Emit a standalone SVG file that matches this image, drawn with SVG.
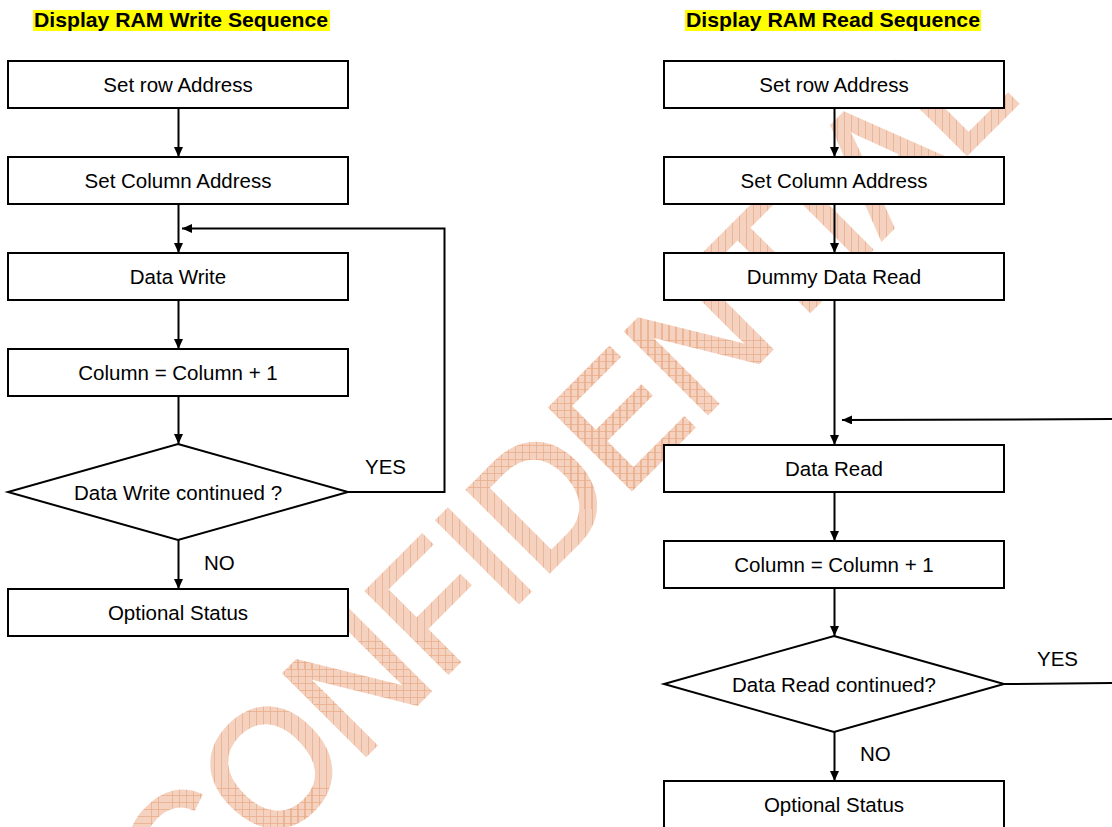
<svg xmlns="http://www.w3.org/2000/svg" width="1112" height="827" viewBox="0 0 1112 827">
  <style>
    .box { fill: #ffffff; stroke: #000000; stroke-width: 2; }
    .lbl { font-family: "Liberation Sans", Arial, sans-serif; font-size: 20.5px; fill: #000000; text-anchor: middle; }
    .tag { font-family: "Liberation Sans", Arial, sans-serif; font-size: 20.5px; fill: #000000; }
    .title { font-family: "Liberation Sans", Arial, sans-serif; font-size: 21px; font-weight: bold; fill: #000000; }
    .hl { fill: #ffff00; }
    .conn { fill: none; stroke: #000000; stroke-width: 2; }
    .wm { font-family: "Liberation Sans", Arial, sans-serif; font-size: 168px; fill: url(#hatch); stroke: url(#hatch); stroke-width: 3.5; stroke-linejoin: miter; }
  </style>
  <defs>
    <marker id="arrow" markerUnits="userSpaceOnUse" markerWidth="10" markerHeight="9" refX="10" refY="4.5" orient="auto">
      <path d="M0,0 L10,4.5 L0,9 z" fill="#000000"/>
    </marker>
    <pattern id="hatch" patternUnits="userSpaceOnUse" width="7" height="7" patternTransform="rotate(45)">
      <rect width="7" height="7" fill="#f5d2bf"/>
      <path d="M0,0.4 H7 M0.4,0 V7" stroke="#e8a985" stroke-width="0.8"/>
    </pattern>
  </defs>

  <rect width="1112" height="827" fill="#ffffff"/>

  <g id="watermark">
    <text class="wm" x="0" y="0" transform="translate(186,935) rotate(-45)" textLength="1181" lengthAdjust="spacingAndGlyphs">CONFIDENTIAL</text>
  </g>

  <g id="title-write">
    <rect class="hl" x="33" y="10" width="297" height="21"/>
    <text class="title" x="34" y="27" textLength="294" lengthAdjust="spacingAndGlyphs">Display RAM Write Sequence</text>
  </g>
  <g id="title-read">
    <rect class="hl" x="685" y="10" width="296" height="21"/>
    <text class="title" x="686" y="27" textLength="294" lengthAdjust="spacingAndGlyphs">Display RAM Read Sequence</text>
  </g>

  <!-- Write sequence nodes -->
  <g id="w-row">
    <rect class="box" x="8" y="61" width="340" height="47"/>
    <text class="lbl" x="178" y="92">Set row Address</text>
  </g>
  <g id="w-col">
    <rect class="box" x="8" y="157" width="340" height="47"/>
    <text class="lbl" x="178" y="188">Set Column Address</text>
  </g>
  <g id="w-data">
    <rect class="box" x="8" y="253" width="340" height="47"/>
    <text class="lbl" x="178" y="284">Data Write</text>
  </g>
  <g id="w-inc">
    <rect class="box" x="8" y="349" width="340" height="47"/>
    <text class="lbl" x="178" y="380">Column = Column + 1</text>
  </g>
  <g id="w-dec">
    <polygon class="box" points="178,444 348,492 178,540 8,492"/>
    <text class="lbl" x="178" y="500">Data Write continued ?</text>
  </g>
  <g id="w-status">
    <rect class="box" x="8" y="589" width="340" height="47"/>
    <text class="lbl" x="178" y="620">Optional Status</text>
  </g>

  <!-- Read sequence nodes -->
  <g id="r-row">
    <rect class="box" x="664" y="61" width="340" height="47"/>
    <text class="lbl" x="834" y="92">Set row Address</text>
  </g>
  <g id="r-col">
    <rect class="box" x="664" y="157" width="340" height="47"/>
    <text class="lbl" x="834" y="188">Set Column Address</text>
  </g>
  <g id="r-dummy">
    <rect class="box" x="664" y="253" width="340" height="47"/>
    <text class="lbl" x="834" y="284">Dummy Data Read</text>
  </g>
  <g id="r-data">
    <rect class="box" x="664" y="445" width="340" height="47"/>
    <text class="lbl" x="834" y="476">Data Read</text>
  </g>
  <g id="r-inc">
    <rect class="box" x="664" y="541" width="340" height="47"/>
    <text class="lbl" x="834" y="572">Column = Column + 1</text>
  </g>
  <g id="r-dec">
    <polygon class="box" points="834,636 1004,684 834,732 664,684"/>
    <text class="lbl" x="834" y="692">Data Read continued?</text>
  </g>
  <g id="r-status">
    <rect class="box" x="664" y="781" width="340" height="47"/>
    <text class="lbl" x="834" y="812">Optional Status</text>
  </g>

  <g id="connectors">
    <path class="conn" d="M178.5,108 V157" marker-end="url(#arrow)"/>
    <path class="conn" d="M178.5,204 V253" marker-end="url(#arrow)"/>
    <path class="conn" d="M178.5,300 V349" marker-end="url(#arrow)"/>
    <path class="conn" d="M178.5,396 V444" marker-end="url(#arrow)"/>
    <path class="conn" d="M178.5,540 V589" marker-end="url(#arrow)"/>
    <path class="conn" d="M348,492 H444.5 V228.5 H182" marker-end="url(#arrow)"/>

    <path class="conn" d="M834.5,108 V157" marker-end="url(#arrow)"/>
    <path class="conn" d="M834.5,204 V253" marker-end="url(#arrow)"/>
    <path class="conn" d="M834.5,300 V445" marker-end="url(#arrow)"/>
    <path class="conn" d="M834.5,492 V541" marker-end="url(#arrow)"/>
    <path class="conn" d="M834.5,588 V636" marker-end="url(#arrow)"/>
    <path class="conn" d="M834.5,732 V781" marker-end="url(#arrow)"/>
    <path class="conn" d="M1004,684 L1125,683 V419 L842,420" marker-end="url(#arrow)"/>

    <text class="tag" x="365" y="474">YES</text>
    <text class="tag" x="204" y="570">NO</text>
    <text class="tag" x="1037" y="666">YES</text>
    <text class="tag" x="860" y="761">NO</text>
  </g>
</svg>
